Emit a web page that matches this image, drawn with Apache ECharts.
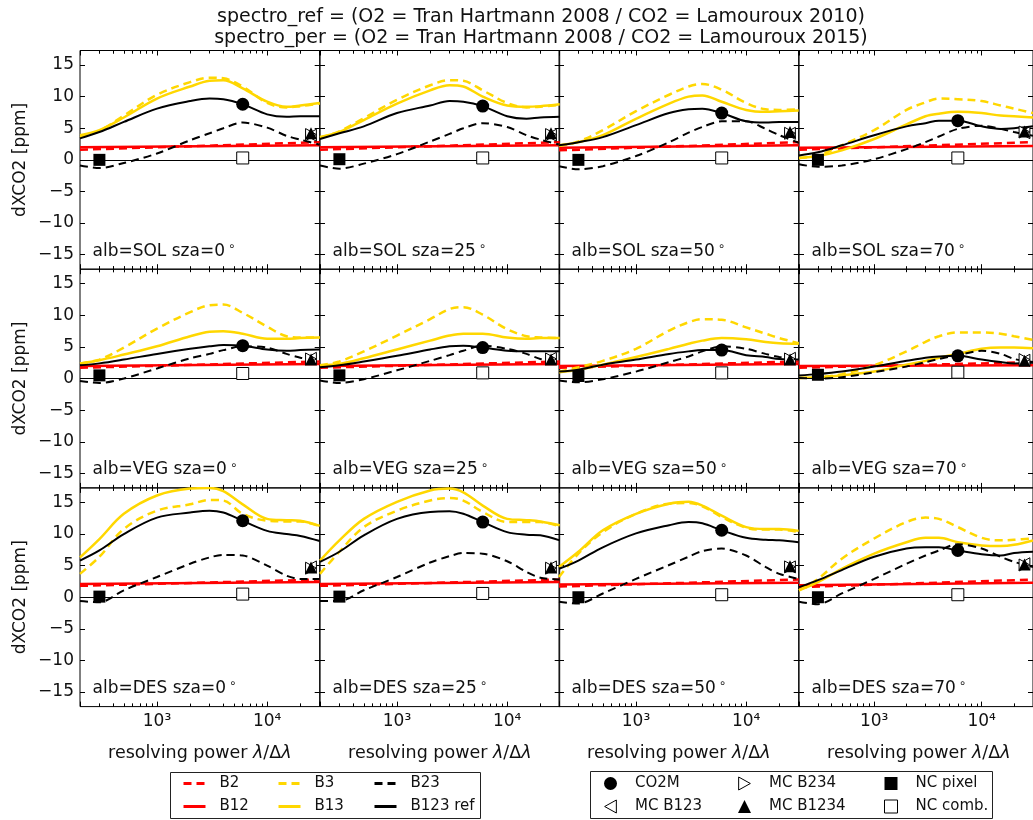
<!DOCTYPE html>
<html>
<head>
<meta charset="utf-8">
<script src="https://cdn.jsdelivr.net/npm/echarts@6/dist/echarts.min.js"></script>
<style>
html, body { margin: 0; padding: 0; background: #fff; }
#main { width: 1033px; height: 820px; }
</style>
</head>
<body>
<div id="main"></div>
<script>
// resolving power samples (x) shared by all curves
var resPower = [200, 300, 500, 1000, 2000, 3000, 4000, 6000, 10000, 15000, 20000, 30000];
var redEnds = [200, 30000];
var albedos = ['SOL', 'VEG', 'DES'];
var szas = [0, 25, 50, 70];
var xTickLabels = {3: '10³', 4: '10⁴'};
var xMinorOuter = [300, 400, 500, 600, 700, 800, 900, 20000];
var yTicks = [-15, -10, -5, 0, 5, 10, 15];

// panels in order SOL 0,25,50,70 / VEG ... / DES ...
var b3 = [
    [3.6, 4.6, 7.0, 10.3, 12.3, 13.0, 12.9, 11.6, 9.0, 8.3, 8.5, 8.9],
    [3.5, 4.5, 6.6, 9.5, 11.8, 12.6, 12.5, 11.0, 9.0, 8.3, 8.4, 8.7],
    [2.2, 2.9, 4.7, 7.7, 10.3, 11.6, 12.0, 11.1, 9.0, 8.0, 7.9, 8.0],
    [0.3, 0.7, 2.3, 4.7, 7.9, 9.1, 9.7, 9.6, 9.3, 8.6, 8.1, 7.4],
    [2.4, 3.0, 4.9, 7.9, 10.5, 11.6, 11.7, 10.4, 8.2, 6.7, 6.5, 6.5],
    [2.1, 2.7, 4.3, 6.8, 9.4, 11.0, 11.3, 10.1, 7.8, 6.7, 6.5, 6.4],
    [1.1, 1.8, 2.8, 4.7, 7.6, 8.9, 9.4, 9.3, 8.1, 7.1, 6.4, 5.6],
    [0.1, 0.2, 0.7, 2.1, 4.3, 5.8, 6.7, 7.3, 7.3, 7.1, 6.7, 6.1],
    [3.7, 6.4, 10.8, 13.7, 14.7, 15.4, 15.3, 13.2, 12.1, 12.0, 12.0, 11.2],
    [3.7, 7.2, 11.1, 13.7, 15.3, 15.7, 15.3, 13.5, 11.9, 11.9, 11.9, 11.2],
    [3.2, 6.9, 10.3, 13.2, 14.8, 14.9, 14.4, 12.7, 11.0, 10.7, 10.7, 10.3],
    [1.1, 2.9, 6.1, 9.3, 11.9, 12.6, 12.4, 11.1, 9.4, 9.0, 9.1, 9.3]
];
var b13 = [
    [3.9, 4.7, 6.7, 9.7, 11.6, 12.5, 12.6, 11.3, 9.2, 8.4, 8.6, 9.0],
    [3.6, 4.4, 6.3, 8.9, 11.0, 11.8, 11.6, 10.0, 8.6, 8.4, 8.5, 8.8],
    [2.3, 2.8, 3.9, 6.5, 8.9, 10.0, 10.2, 9.2, 7.9, 7.6, 7.7, 7.8],
    [0.3, 0.6, 1.5, 3.3, 5.6, 6.9, 7.3, 7.6, 7.4, 7.0, 6.9, 6.7],
    [2.4, 2.9, 3.8, 5.1, 6.7, 7.4, 7.5, 7.1, 6.3, 6.3, 6.4, 6.5],
    [2.1, 2.3, 3.2, 4.6, 6.0, 6.8, 7.1, 7.1, 6.5, 6.3, 6.4, 6.4],
    [1.0, 1.4, 2.2, 3.4, 4.7, 5.5, 6.0, 6.4, 6.2, 5.8, 5.6, 5.5],
    [0.1, 0.2, 0.5, 1.1, 2.2, 2.8, 3.3, 3.9, 4.7, 4.9, 4.9, 4.8],
    [6.3, 9.2, 13.2, 16.1, 17.2, 17.3, 16.8, 14.7, 12.4, 12.2, 12.1, 11.3],
    [5.8, 9.0, 12.4, 15.1, 16.9, 17.2, 16.6, 14.5, 12.4, 12.2, 12.0, 11.4],
    [4.8, 7.2, 10.6, 13.2, 14.8, 15.1, 14.5, 12.9, 11.1, 10.8, 10.8, 10.5],
    [1.1, 2.4, 4.5, 6.9, 8.7, 9.4, 9.4, 8.7, 8.2, 8.1, 8.3, 9.0]
];
var b123 = [
    [3.4, 4.4, 6.0, 8.1, 9.3, 9.7, 9.6, 8.8, 7.2, 6.8, 6.9, 6.9],
    [3.3, 4.2, 5.3, 7.4, 8.6, 9.3, 9.2, 8.5, 6.9, 6.5, 6.7, 6.8],
    [2.3, 2.8, 3.6, 5.5, 7.4, 8.0, 8.1, 7.4, 6.1, 5.9, 6.0, 6.0],
    [0.7, 1.2, 2.3, 3.9, 5.3, 5.8, 6.2, 6.2, 5.3, 4.9, 5.0, 5.3],
    [2.1, 2.4, 3.0, 3.9, 4.7, 5.1, 5.3, 5.2, 4.6, 4.4, 4.5, 4.6],
    [1.8, 2.1, 2.7, 3.6, 4.6, 5.1, 5.2, 4.9, 4.4, 4.3, 4.3, 4.3],
    [1.1, 1.4, 2.2, 3.0, 3.9, 4.3, 4.5, 4.5, 3.7, 3.4, 3.1, 3.0],
    [0.5, 0.7, 1.1, 1.9, 2.8, 3.3, 3.5, 3.6, 3.0, 2.6, 2.4, 2.5],
    [5.8, 7.4, 10.0, 12.6, 13.4, 13.7, 13.4, 12.1, 10.5, 10.0, 9.7, 8.9],
    [5.6, 7.2, 9.8, 12.4, 13.5, 13.6, 13.2, 11.9, 10.3, 9.9, 9.8, 9.0],
    [4.5, 5.8, 7.9, 10.1, 11.4, 11.9, 11.7, 10.6, 9.4, 9.1, 9.0, 8.7],
    [1.6, 2.7, 4.3, 6.4, 7.7, 7.9, 7.9, 7.4, 6.8, 6.6, 7.0, 7.2]
];
var b23 = [
    [-0.9, -1.3, -0.5, 1.0, 3.1, 4.2, 5.0, 5.9, 5.1, 3.8, 3.2, 2.4],
    [-0.9, -1.4, -0.6, 0.9, 2.9, 4.1, 5.0, 5.8, 5.2, 3.9, 3.2, 2.4],
    [-1.0, -1.5, -1.0, 0.6, 2.8, 4.3, 5.2, 6.1, 6.1, 4.9, 3.9, 2.7],
    [-0.7, -1.1, -0.9, 0.1, 1.7, 2.8, 3.7, 4.9, 5.4, 4.9, 4.4, 3.8],
    [-0.4, -0.7, 0.0, 1.6, 3.2, 3.9, 4.5, 5.1, 4.9, 3.9, 3.3, 2.9],
    [-0.3, -0.7, -0.1, 1.3, 2.8, 3.7, 4.4, 5.2, 4.7, 3.9, 3.1, 2.6],
    [-0.3, -0.6, -0.1, 1.1, 2.6, 3.5, 4.3, 5.1, 4.7, 3.9, 3.4, 2.8],
    [0.1, 0.0, 0.2, 1.0, 1.9, 2.6, 3.1, 3.7, 4.4, 3.9, 3.1, 2.6],
    [-0.6, -0.8, 1.1, 3.2, 5.3, 6.3, 6.7, 6.6, 5.0, 3.4, 2.9, 2.9],
    [-0.6, -0.6, 1.1, 3.2, 5.5, 6.5, 7.0, 6.9, 5.7, 4.0, 3.1, 2.8],
    [-0.7, -1.0, 0.6, 2.9, 5.1, 6.4, 7.3, 7.7, 6.6, 4.8, 3.7, 2.9],
    [-0.7, -1.1, 0.6, 2.9, 5.3, 6.6, 7.4, 8.4, 7.7, 6.4, 5.6, 4.8]
];
// red curves: values at 200 and 30000
var b2 = [
    [1.6, 2.8], [1.6, 2.8], [1.5, 2.8], [1.6, 2.8],
    [1.7, 2.7], [1.7, 2.7], [1.7, 2.7], [1.7, 2.6],
    [1.8, 2.8], [1.8, 2.8], [1.7, 2.8], [1.6, 2.8]
];
var b12 = [
    [2.0, 2.3], [2.0, 2.3], [1.9, 2.3], [1.9, 2.2],
    [2.0, 2.3], [2.0, 2.3], [2.0, 2.3], [2.0, 2.1],
    [2.1, 2.4], [2.1, 2.4], [2.0, 2.3], [1.9, 2.3]
];
// single instrument points
var co2mX = 6000, ncCombX = 6000, ncPixelX = 300, mcX = 25000;
var co2m = [8.8, 8.5, 7.4, 6.2, 5.2, 4.9, 4.5, 3.6, 12.1, 11.9, 10.6, 7.4];
var ncComb = [0.3, 0.3, 0.3, 0.3, 0.8, 0.9, 0.9, 1.0, 0.5, 0.6, 0.4, 0.4];
var ncPixel = [0.0, 0.1, 0.0, 0.0, 0.5, 0.5, 0.4, 0.6, 0.1, 0.1, 0.0, 0.0];
var mcB123 = [3.9, 3.9, 4.2, 4.3, 3.2, 3.2, 3.2, 2.9, 4.8, 4.8, 4.8, 5.3];
var mcB234 = [4.0, 4.0, 4.2, 4.4, 3.1, 3.1, 3.1, 3.0, 4.6, 4.6, 4.8, 5.1];
var mcB1234 = [4.2, 4.2, 4.4, 4.5, 3.0, 3.0, 3.0, 2.8, 4.7, 4.7, 4.9, 5.2];

var FONT = 'DejaVu Sans';
var INK = '#111';
var RED = '#ff0000', GOLD = '#ffd700';
var lefts = [80, 320, 559, 799];
var GW = 239.7, GT = 50.5, GH = 218.7;
var YMAX = 17.3;
var TRI_LEFT = 'path://M0,5L9,0L9,10Z';
var TRI_RIGHT = 'path://M9,5L0,0L0,10Z';

function pairs(xs, ys) {
    return xs.map(function (x, i) { return [x, ys[i]]; });
}

var chart = echarts.init(document.getElementById('main'));

var grids = [], xAxes = [], yAxes = [], series = [], graphics = [];

function xLabel(v) {
    var e = Math.log10(v);
    var n = Math.round(e);
    if (Math.abs(e - n) < 1e-6 && xTickLabels[n]) return xTickLabels[n];
    return '';
}

for (var p = 0; p < 12; p++) {
    var r = Math.floor(p / 4), c = p % 4;
    grids.push({
        left: lefts[c], top: GT + r * GH, width: GW, height: GH,
        show: true, borderColor: '#000', borderWidth: 1, backgroundColor: 'transparent'
    });
    // major ticks (+ minor ticks of the middle decade)
    ['bottom', 'top'].forEach(function (pos) {
        xAxes.push({
            type: 'log', logBase: 10, gridIndex: p, position: pos,
            min: 200, max: 30000,
            axisLine: {show: false, onZero: false},
            axisTick: {show: true, inside: true, length: 5, lineStyle: {color: '#000'}},
            minorTick: {show: true, splitNumber: 9, length: 3, lineStyle: {color: '#000'}},
            splitLine: {show: false},
            axisLabel: {
                show: pos === 'bottom' && r === 2, margin: 6,
                formatter: xLabel, showMinLabel: false, showMaxLabel: false,
                fontFamily: FONT, fontSize: 17, color: INK
            }
        });
    });
    // minor ticks of the outer decades
    ['bottom', 'top'].forEach(function (pos) {
        xAxes.push({
            type: 'log', logBase: 10, gridIndex: p, position: pos,
            min: 200, max: 30000,
            axisLine: {show: false, onZero: false},
            axisTick: {show: true, inside: true, length: 3, customValues: xMinorOuter, lineStyle: {color: '#000'}},
            splitLine: {show: false},
            axisLabel: {show: false}
        });
    });
    ['left', 'right'].forEach(function (pos) {
        yAxes.push({
            type: 'value', gridIndex: p, position: pos,
            min: -YMAX, max: YMAX,
            axisLine: {show: false, onZero: false},
            axisTick: {show: true, inside: true, length: 5, customValues: yTicks, lineStyle: {color: '#000'}},
            splitLine: {show: false},
            axisLabel: {
                show: pos === 'left' && c === 0, margin: 6, customValues: yTicks,
                formatter: function (v) { return v < 0 ? '\u2212' + Math.abs(v) : String(v); },
                fontFamily: FONT, fontSize: 17, color: INK
            }
        });
    });

    var ax = {xAxisIndex: 4 * p, yAxisIndex: 2 * p};
    function line(name, xs, ys, color, width, dashed, smooth, extra) {
        series.push(Object.assign({
            name: name, type: 'line', data: pairs(xs, ys),
            symbol: 'none', smooth: smooth, silent: true,
            lineStyle: {color: color, width: width, type: dashed ? [8, 5] : 'solid'},
            itemStyle: {color: color}
        }, ax, extra || {}));
    }
    line('B2', redEnds, b2[p], RED, 2.5, true, false, {
        markLine: {
            silent: true, symbol: 'none', label: {show: false},
            lineStyle: {color: '#000', width: 1, type: 'solid'},
            data: [{yAxis: 0}]
        }
    });
    line('B12', redEnds, b12[p], RED, 2.5, false, false);
    line('B3', resPower, b3[p], GOLD, 2.5, true, 0.35);
    line('B13', resPower, b13[p], GOLD, 2.5, false, 0.35);
    line('B23', resPower, b23[p], '#000', 2, true, 0.3);
    line('B123 ref', resPower, b123[p], '#000', 2, false, 0.35);

    function pt(name, x, y, symbol, size, filled) {
        series.push(Object.assign({
            name: name, type: 'scatter', data: [[x, y]],
            symbol: symbol, symbolSize: size, symbolKeepAspect: true, silent: true,
            itemStyle: filled ? {color: '#000', opacity: 1}
                              : {color: '#fff', borderColor: '#000', borderWidth: 1, opacity: 1},
            z: 5
        }, ax));
    }
    pt('CO2M', co2mX, co2m[p], 'circle', 13, true);
    pt('MC B123', mcX, mcB123[p], TRI_LEFT, 12, false);
    pt('MC B234', mcX, mcB234[p], TRI_RIGHT, 12, false);
    pt('MC B1234', mcX, mcB1234[p], 'triangle', 12, true);
    pt('NC pixel', ncPixelX, ncPixel[p], 'rect', 12, true);
    pt('NC comb.', ncCombX, ncComb[p], 'rect', 12, false);

    graphics.push({
        type: 'text', x: lefts[c] + 12.5, y: GT + (r + 1) * GH - 18, z: 10,
        style: {
            text: 'alb=' + albedos[r] + ' sza=' + szas[c] + '{d|\u2218}',
            fontFamily: FONT, fontSize: 17, fill: INK,
            textAlign: 'left', textVerticalAlign: 'middle',
            rich: {d: {fontFamily: FONT, fontSize: 12, fill: INK, padding: [0, 0, 9, 3]}}
        }
    });
}

// row / column axis titles and figure title
for (var rr = 0; rr < 3; rr++) {
    graphics.push({
        type: 'text', x: 21, y: GT + rr * GH + GH / 2, rotation: Math.PI / 2,
        style: {text: 'dXCO2 [ppm]', fontFamily: FONT, fontSize: 17, fill: INK,
                textAlign: 'center', textVerticalAlign: 'middle'}
    });
}
for (var cc = 0; cc < 4; cc++) {
    graphics.push({
        type: 'text', x: lefts[cc] + GW / 2, y: 753,
        style: {text: 'resolving power {i|\u03bb}/\u0394{i|\u03bb}', fontFamily: FONT, fontSize: 17.5, fill: INK,
                textAlign: 'center', textVerticalAlign: 'middle',
                rich: {i: {fontFamily: FONT, fontSize: 17.5, fontStyle: 'italic', fill: INK}}}
    });
}
graphics.push({
    type: 'text', x: 541, y: 17,
    style: {text: 'spectro_ref = (O2 = Tran Hartmann 2008 / CO2 = Lamouroux 2010)', fontFamily: FONT,
            fontSize: 19, fill: INK, textAlign: 'center', textVerticalAlign: 'middle'}
});
graphics.push({
    type: 'text', x: 541, y: 38,
    style: {text: 'spectro_per = (O2 = Tran Hartmann 2008 / CO2 = Lamouroux 2015)', fontFamily: FONT,
            fontSize: 19, fill: INK, textAlign: 'center', textVerticalAlign: 'middle'}
});
// legend frames
graphics.push({type: 'rect', shape: {x: 170.5, y: 772.5, width: 310, height: 46},
               style: {fill: '#fff', stroke: '#222', lineWidth: 1}, z: -1});
graphics.push({type: 'rect', shape: {x: 590.5, y: 771.5, width: 402, height: 47},
               style: {fill: '#fff', stroke: '#222', lineWidth: 1}, z: -1});

function lineLegend(left, names) {
    return {
        left: left, top: 776, orient: 'vertical', padding: 0, itemGap: 8,
        itemWidth: 22, itemHeight: 14, selectedMode: false,
        itemStyle: {opacity: 0}, lineStyle: {width: 3},
        textStyle: {fontFamily: FONT, fontSize: 15, color: INK, lineHeight: 14, padding: [0, 0, 0, 9]},
        data: names
    };
}
function markLegend(left, names) {
    return {
        left: left, top: 776, orient: 'vertical', padding: 0, itemGap: 8,
        itemWidth: 13, itemHeight: 13, selectedMode: false,
        itemStyle: {borderWidth: 1, opacity: 1},
        textStyle: {fontFamily: FONT, fontSize: 15, color: INK, lineHeight: 14, padding: [0, 0, 0, 13]},
        data: names
    };
}

var option = {
    animation: false,
    backgroundColor: '#fff',
    textStyle: {fontFamily: FONT},
    grid: grids,
    xAxis: xAxes,
    yAxis: yAxes,
    legend: [
        lineLegend(182, ['B2', 'B12']),
        lineLegend(277, ['B3', 'B13']),
        lineLegend(373, ['B23', 'B123 ref']),
        markLegend(604, ['CO2M', 'MC B123']),
        markLegend(738, ['MC B234', 'MC B1234']),
        markLegend(884, ['NC pixel', 'NC comb.'])
    ],
    graphic: graphics,
    series: series
};
chart.setOption(option);
</script>
</body>
</html>
